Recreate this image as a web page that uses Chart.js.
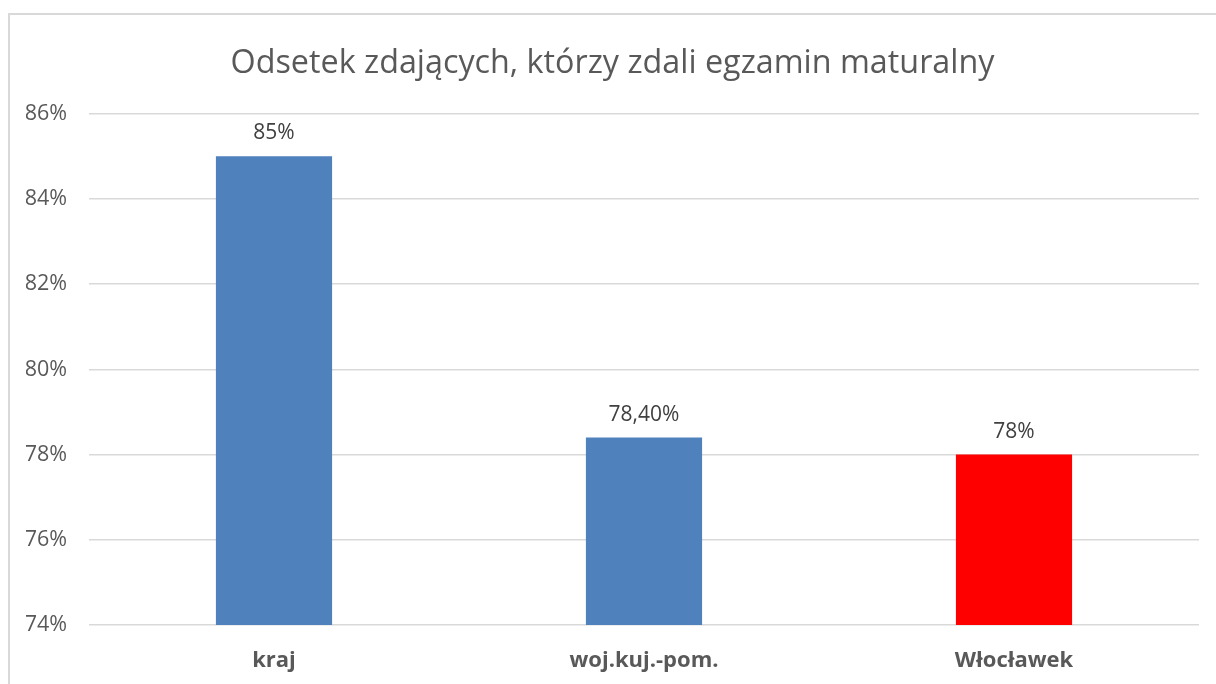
<!DOCTYPE html>
<html>
<head>
<meta charset="utf-8">
<script src="https://cdn.jsdelivr.net/npm/chart.js@4"></script>
<style>
html,body{margin:0;padding:0;background:#fff;}
#wrap{width:1216px;height:684px;position:relative;}
</style>
</head>
<body>
<div id="wrap"><canvas id="c" width="1216" height="684"></canvas></div>
<script>
const categories = ['kraj', 'woj.kuj.-pom.', 'Włocławek'];
const values = [85, 78.4, 78];
const valueLabels = ['85%', '78,40%', '78%'];
const barColors = ['#4f81bd', '#4f81bd', '#ff0000'];
const yTicks = [74, 76, 78, 80, 82, 84, 86];
const titleText = 'Odsetek zdających, którzy zdali egzamin maturalny';

const FONT = '"Open Sans", sans-serif';

const borderPlugin = {
  id: 'frame',
  beforeDraw(chart) {
    const ctx = chart.ctx;
    ctx.save();
    ctx.strokeStyle = '#d9d9d9';
    ctx.lineWidth = 2;
    ctx.beginPath();
    ctx.moveTo(9, 684);
    ctx.lineTo(9, 14);
    ctx.lineTo(1216, 14);
    ctx.stroke();
    ctx.restore();
  }
};

const labelPlugin = {
  id: 'valueLabels',
  afterDatasetsDraw(chart) {
    const ctx = chart.ctx;
    const meta = chart.getDatasetMeta(0);
    ctx.save();
    ctx.font = '21px ' + FONT;
    ctx.fillStyle = '#404040';
    ctx.textAlign = 'center';
    ctx.textBaseline = 'alphabetic';
    meta.data.forEach((bar, i) => {
      ctx.fillText(valueLabels[i], bar.x, bar.y - 17);
    });
    ctx.restore();
  }
};

new Chart(document.getElementById('c'), {
  type: 'bar',
  data: {
    labels: categories,
    datasets: [{
      data: values,
      backgroundColor: barColors,
      borderWidth: 0,
      categoryPercentage: 1,
      barPercentage: 0.314
    }]
  },
  options: {
    responsive: false,
    animation: false,
    devicePixelRatio: 1,
    layout: { padding: { left: 26, top: 13, right: 17, bottom: 0 } },
    plugins: {
      legend: { display: false },
      tooltip: { enabled: false },
      title: {
        display: true,
        text: titleText,
        color: '#595959',
        font: { family: FONT, size: 32.3, weight: 'normal', lineHeight: 1.2 },
        padding: { top: 31, bottom: 31 }
      }
    },
    scales: {
      y: {
        min: 74,
        max: 86,
        afterBuildTicks(scale) { scale.ticks = yTicks.map(v => ({ value: v })); },
        afterFit(scale) { scale.width = 63; },
        grid: { color: '#d9d9d9', lineWidth: 1.5, drawTicks: false },
        border: { display: false },
        ticks: {
          color: '#595959',
          font: { family: FONT, size: 21.5 },
          padding: 22,
          callback: v => v + '%'
        }
      },
      x: {
        afterFit(scale) { scale.height = 59; },
        grid: { display: false, drawTicks: false },
        border: { display: false },
        ticks: {
          color: '#595959',
          font: { family: FONT, size: 22, weight: 'bold' },
          padding: 23
        }
      }
    }
  },
  plugins: [borderPlugin, labelPlugin]
});
</script>
</body>
</html>
